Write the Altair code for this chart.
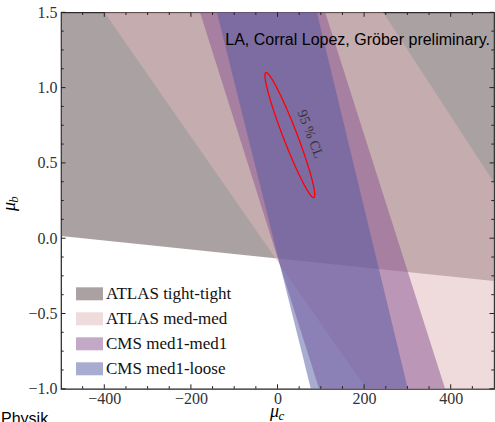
import altair as alt
import numpy as np
import pandas as pd

# ---- constraint regions (mu_c on x, mu_b on y) ----
regions = ["ATLAS tight-tight", "ATLAS med-med", "CMS med1-med1", "CMS med1-loose"]
region_colors = ["#554545", "#dfb5b9", "#895191", "#5359a3"]

# ATLAS tight-tight: allowed above a slanted lower edge
tt_mu_c = [-500, 500]
tt_lower = [0.015, -0.285]
tt_upper = [1.5, 1.5]

# band edges (mu_c) at mu_b = 1.5 and mu_b = -1.0
band_mu_b = [1.5, -1.0]
medmed_left = [-400, 205]
medmed_right = [244, 810]
cms_mm_left = [-179, 96]
cms_mm_right = [110, 387]
cms_ml_left = [-140, 77]
cms_ml_right = [91, 301]

# 95% CL ellipse: centre and conjugate half-axes in (mu_c, mu_b)
ell_center = (28.5, 0.685)
ell_major = (-55.5, 0.415)
ell_minor = (15.1, 0.0167)

# ticks
x_major = [-400, -200, 0, 200, 400]
x_minor = [-450, -350, -300, -250, -150, -100, -50, 50, 100, 150, 250, 300, 350, 450]
y_major = [-1.0, -0.5, 0.0, 0.5, 1.0, 1.5]
y_minor = [-0.875, -0.75, -0.625, -0.375, -0.25, -0.125,
           0.125, 0.25, 0.375, 0.625, 0.75, 0.875, 1.125, 1.25, 1.375]

W, H = 433, 376.5
SERIF = "Liberation Serif"
SANS = "Liberation Sans"
INK = "#222222"

xs = alt.Scale(domain=[-500, 500], nice=False, zero=False)
ys = alt.Scale(domain=[-1.0, 1.5], nice=False, zero=False)
cs = alt.Scale(domain=regions, range=region_colors)

x_axis = alt.Axis(values=x_major, format="d", title=None, ticks=False, domain=False,
                  grid=False, labelFont=SERIF, labelFontSize=16, labelColor="#333333",
                  labelPadding=2, labelFlush=False, labelOverlap=False)
y_axis = alt.Axis(values=y_major, format=".1f", title=None, ticks=False, domain=False,
                  grid=False, labelFont=SERIF, labelFontSize=16, labelColor="#333333",
                  labelPadding=4, labelFlush=False, labelOverlap=False)

legend = alt.Legend(title=None, orient="none", legendX=20, legendY=273,
                    symbolType="M-2.077,-1L2.077,-1L2.077,1L-2.077,1Z", symbolSize=169,
                    symbolOpacity=0.5, symbolStrokeWidth=0, labelFont=SERIF,
                    labelFontSize=17, labelColor="#111111", labelOffset=8,
                    rowPadding=7, padding=0, labelLimit=300)


def X(field):
    return alt.X(field, scale=xs, axis=x_axis)


def Y(field):
    return alt.Y(field, scale=ys, axis=y_axis)


tt_df = pd.DataFrame({"region": regions[0], "mu_c": tt_mu_c,
                      "lower": tt_lower, "upper": tt_upper})

grey = alt.Chart(tt_df).mark_area(clip=True, opacity=0.5).encode(
    x=X("mu_c:Q"),
    y=Y("lower:Q"),
    y2="upper:Q",
    color=alt.Color("region:N", scale=cs, legend=legend),
)


def band(name, left, right):
    df = pd.DataFrame({"region": name, "mu_b": band_mu_b, "left": left, "right": right})
    return alt.Chart(df).mark_area(orient="horizontal", clip=True, opacity=0.5).encode(
        y=Y("mu_b:Q"),
        x=X("left:Q"),
        x2="right:Q",
        color=alt.Color("region:N", scale=cs, legend=legend),
    )


bands = [
    band(regions[1], medmed_left, medmed_right),
    band(regions[2], cms_mm_left, cms_mm_right),
    band(regions[3], cms_ml_left, cms_ml_right),
]

t = np.linspace(0, 2 * np.pi, 181)
ell_df = pd.DataFrame({
    "i": np.arange(t.size),
    "mu_c": ell_center[0] + ell_major[0] * np.cos(t) + ell_minor[0] * np.sin(t),
    "mu_b": ell_center[1] + ell_major[1] * np.cos(t) + ell_minor[1] * np.sin(t),
})
ellipse = alt.Chart(ell_df).mark_line(color="#ff0000", strokeWidth=1.3, clip=True).encode(
    x=X("mu_c:Q"),
    y=Y("mu_b:Q"),
    order="i:Q",
)

cl_label = alt.Chart(pd.DataFrame({"mu_c": [75], "mu_b": [0.69], "t": ["95 % CL"]})).mark_text(
    angle=69, font=SERIF, fontSize=14, color="#333333"
).encode(
    x=X("mu_c:Q"),
    y=Y("mu_b:Q"),
    text="t:N",
)


# inward ticks on all four sides
def ticks(values, side, length):
    df = pd.DataFrame({"v": values})
    base = alt.Chart(df).mark_rule(color=INK, strokeWidth=1)
    if side == "bottom":
        return base.encode(x=X("v:Q"), y=alt.value(H), y2=alt.value(H - length))
    if side == "top":
        return base.encode(x=X("v:Q"), y=alt.value(0), y2=alt.value(length))
    if side == "left":
        return base.encode(y=Y("v:Q"), x=alt.value(0), x2=alt.value(length))
    return base.encode(y=Y("v:Q"), x=alt.value(W), x2=alt.value(W - length))


tick_layers = []
for side in ["bottom", "top"]:
    tick_layers.append(ticks(x_major, side, 4.5))
    tick_layers.append(ticks(x_minor, side, 2.7))
for side in ["left", "right"]:
    tick_layers.append(ticks(y_major, side, 4.5))
    tick_layers.append(ticks(y_minor, side, 2.7))


def note(text, x, y, font, size, align="left", angle=0, style="normal", color="#000000"):
    return alt.Chart(pd.DataFrame({"t": [text]})).mark_text(
        font=font, fontSize=size, align=align, baseline="alphabetic",
        angle=angle, fontStyle=style, color=color
    ).encode(text="t:N", x=alt.value(x), y=alt.value(y))


notes = [
    note("LA, Corral Lopez, Gröber preliminary.", 429, 32.7, SANS, 16, align="right"),
    note("Physik", -60, 412, SANS, 16),
    note("μ", 209, 405, SERIF, 18, style="italic"),
    note("c", 217.5, 407.5, SERIF, 13, style="italic"),
    note("μ", -46, 198.7, SERIF, 18, angle=270, style="italic"),
    note("b", -43.5, 190.5, SERIF, 13, angle=270, style="italic"),
]

chart = alt.layer(grey, *bands, ellipse, cl_label, *tick_layers, *notes).properties(
    width=W,
    height=H,
    padding={"left": 61, "top": 12.3, "right": 1, "bottom": 33.2},
    autosize=alt.AutoSizeParams(type="none"),
    background="white",
).configure_view(stroke=INK, strokeWidth=1.2)

chart.save("out.html", embed_options={"renderer": "svg", "actions": False})
